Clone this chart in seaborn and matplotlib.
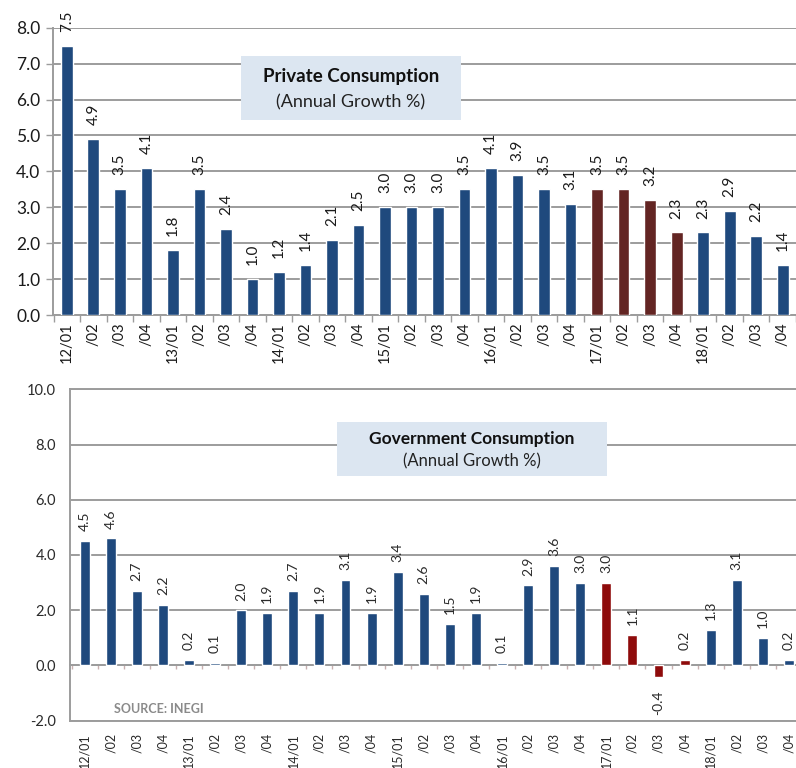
import matplotlib
matplotlib.use("Agg")
import matplotlib.pyplot as plt
import seaborn as sns
import pandas as pd
from matplotlib.patches import Rectangle

# Quarter labels (year/quarter), 2012 Q1 through 2018 Q4
quarters = ["12/01", "/02", "/03", "/04",
            "13/01", "/02", "/03", "/04",
            "14/01", "/02", "/03", "/04",
            "15/01", "/02", "/03", "/04",
            "16/01", "/02", "/03", "/04",
            "17/01", "/02", "/03", "/04",
            "18/01", "/02", "/03", "/04"]

# Annual growth rates, %
private_growth = [7.5, 4.9, 3.5, 4.1, 1.8, 3.5, 2.4, 1.0, 1.2, 1.4, 2.1, 2.5,
                  3.0, 3.0, 3.0, 3.5, 4.1, 3.9, 3.5, 3.1, 3.5, 3.5, 3.2, 2.3,
                  2.3, 2.9, 2.2, 1.4]
government_growth = [4.5, 4.6, 2.7, 2.2, 0.2, 0.1, 2.0, 1.9, 2.7, 1.9, 3.1, 1.9,
                     3.4, 2.6, 1.5, 1.9, 0.1, 2.9, 3.6, 3.0, 3.0, 1.1, -0.4, 0.2,
                     1.3, 3.1, 1.0, 0.2]

# Quarters highlighted in red (2017)
highlighted = ["17/01", "17/02", "17/03", "17/04"]

sns.set_theme(style="white")
plt.rcParams["font.family"] = ["Lato", "DejaVu Sans"]

BLUE = "#1F497D"
RED_TOP = "#632523"
RED_BOTTOM = "#8E0B0B"
GRID = "#9c9c9c"
BOX = "#DCE6F1"
TEXT = "#1a1a1a"


def build_frame(values):
    year = None
    rows = []
    for i, (lab, v) in enumerate(zip(quarters, values)):
        if "/" in lab and not lab.startswith("/"):
            year = lab.split("/")[0]
        key = f"{year}/{i % 4 + 1:02d}"
        rows.append({"pos": i, "growth": v,
                     "group": "hl" if key in highlighted else "base"})
    return pd.DataFrame(rows)


fig = plt.figure(figsize=(7.96, 7.68), dpi=100)
fig.patch.set_facecolor("white")

# ---------------- Private consumption ----------------
ax1 = fig.add_axes([53 / 796, 1 - 315 / 768, 1 - 53 / 796, (315 - 27.7) / 768])
df1 = build_frame(private_growth)
sns.barplot(data=df1, x="pos", y="growth", hue="group",
            palette={"base": BLUE, "hl": RED_TOP}, dodge=False, legend=False,
            width=0.44, saturation=1, ax=ax1, zorder=3)
ax1.set_xlim(-0.52, 27.19)
ax1.set_ylim(0, 8)
ax1.set_yticks(range(0, 9))
ax1.set_yticklabels([f"{v:.1f}" for v in range(0, 9)], fontsize=12.5, color=TEXT)
ax1.yaxis.grid(True, color=GRID, linewidth=1.4, zorder=0)
ax1.set_axisbelow(True)
ax1.set_xticks(range(len(quarters)))
ax1.set_xticklabels(quarters, rotation=90, fontsize=10.5, color=TEXT)
ax1.set_xticks([i + 0.5 for i in range(-1, len(quarters))], minor=True)
ax1.tick_params(axis="x", which="major", length=0, pad=5)
ax1.tick_params(axis="x", which="minor", length=5, width=1, color=GRID, direction="out", bottom=True)
ax1.tick_params(axis="y", length=5, width=1, color=GRID, direction="out", left=True, pad=4)
for s in ["top", "right"]:
    ax1.spines[s].set_visible(False)
for s in ["left", "bottom"]:
    ax1.spines[s].set_color(GRID)
    ax1.spines[s].set_linewidth(1.4)
ax1.set_xlabel("")
ax1.set_ylabel("")
for i, v in enumerate(private_growth):
    ax1.annotate(f"{v:.1f}", (i, v), xytext=(0, 10), textcoords="offset points",
                 rotation=90, ha="center", va="bottom", fontsize=11, color=TEXT)

# ---------------- Government consumption ----------------
ax2 = fig.add_axes([70 / 796, 1 - 720.7 / 768, 1 - 70 / 796, (720.7 - 389.3) / 768])
df2 = build_frame(government_growth)
sns.barplot(data=df2, x="pos", y="growth", hue="group",
            palette={"base": BLUE, "hl": RED_BOTTOM}, dodge=False, legend=False,
            width=0.38, saturation=1, ax=ax2, zorder=3)
ax2.set_xlim(-0.56, 27.27)
ax2.set_ylim(-2, 10)
ax2.set_yticks(range(-2, 11, 2))
ax2.set_yticklabels([f"{v:.1f}" for v in range(-2, 11, 2)], fontsize=10.5, color="#2a2a2a")
ax2.yaxis.grid(True, color=GRID, linewidth=1.4, zorder=0)
ax2.set_axisbelow(True)
ax2.set_xticks(range(len(quarters)))
ax2.set_xticklabels(quarters, rotation=90, fontsize=9, color="#2a2a2a")
ax2.tick_params(axis="x", length=0, pad=9)
ax2.tick_params(axis="y", length=0, pad=10)
ax2.spines["right"].set_visible(False)
for s in ["left", "bottom", "top"]:
    ax2.spines[s].set_color(GRID)
    ax2.spines[s].set_linewidth(1.4)
ax2.set_xlabel("")
ax2.set_ylabel("")
zero_axis = ax2.secondary_xaxis(2 / 12)
zero_axis.set_xticks([i + 0.5 for i in range(-1, len(quarters))])
zero_axis.set_xticklabels([])
zero_axis.tick_params(length=3, width=1, color="#c8b0b0", direction="out")
zero_axis.spines["bottom"].set_color(GRID)
zero_axis.spines["bottom"].set_linewidth(1.4)
for i, v in enumerate(government_growth):
    if v >= 0:
        ax2.annotate(f"{v:.1f}", (i, v), xytext=(0, 7), textcoords="offset points",
                     rotation=90, ha="center", va="bottom", fontsize=10, color="#2a2a2a")
    else:
        ax2.annotate(f"{v:.1f}", (i, v), xytext=(0, -10), textcoords="offset points",
                     rotation=90, ha="center", va="top", fontsize=10, color="#2a2a2a")

# ---------------- Title boxes ----------------
def title_box(x0, y0, x1, y1, title, subtitle, size):
    fig.patches.append(Rectangle((x0 / 796, 1 - y1 / 768), (x1 - x0) / 796, (y1 - y0) / 768,
                                 transform=fig.transFigure, facecolor=BOX, edgecolor="none",
                                 zorder=5))
    cx = (x0 + x1) / 2 / 796
    fig.text(cx, 1 - (y0 + (y1 - y0) * 0.32) / 768, title, ha="center", va="center",
             fontsize=size, fontweight="bold", color="#111111", zorder=6)
    fig.text(cx, 1 - (y0 + (y1 - y0) * 0.72) / 768, subtitle, ha="center", va="center",
             fontsize=size - 0.5, color="#222222", zorder=6)


title_box(241, 56, 461, 120, "Private Consumption", "(Annual Growth %)", 13.5)
title_box(337, 422, 607, 476, "Government Consumption", "(Annual Growth %)", 12.5)

fig.text(114 / 796, 1 - 709 / 768, "SOURCE: INEGI", ha="left", va="center",
         fontsize=9, fontweight="bold", color="#8a8a8a")

fig.savefig("out.png", dpi=100, facecolor="white")
